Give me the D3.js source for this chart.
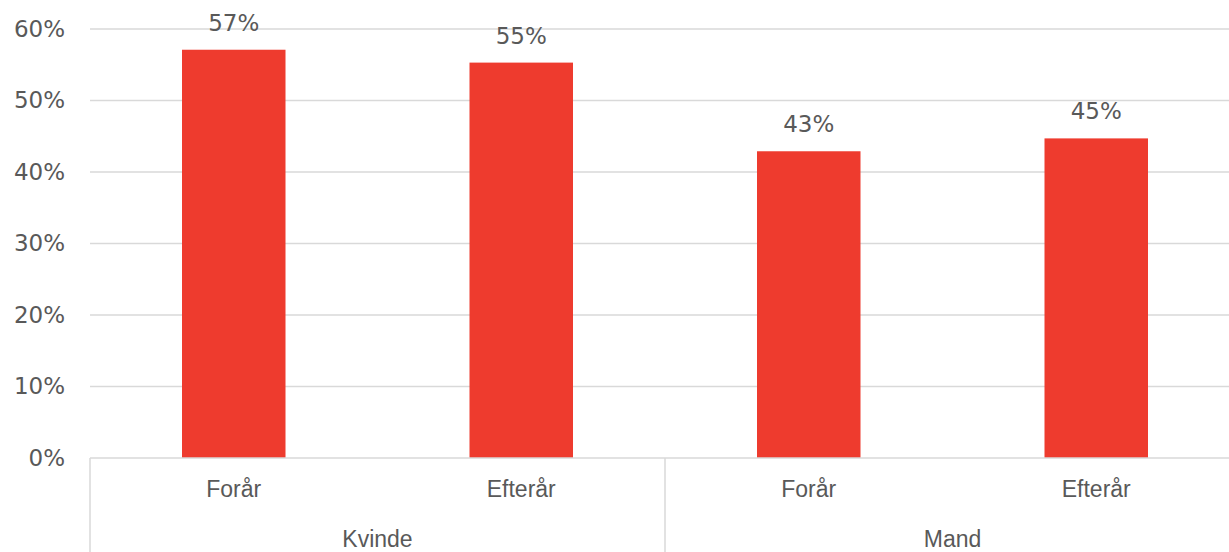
<!DOCTYPE html>
<html><head><meta charset="utf-8">
<script src="https://cdn.jsdelivr.net/npm/d3@7"></script>
<style>html,body{margin:0;padding:0;background:#fff;overflow:hidden}</style>
</head><body><svg id="c" width="1229" height="552"></svg>
<script>
const groups = ["Kvinde", "Mand"];
const seasons = ["Forår", "Efterår"];
const kvindeValues = [57.1, 55.3];
const mandValues = [42.9, 44.7];
const valueLabels = ["57%", "55%", "43%", "45%"];
const yTicks = [0, 10, 20, 30, 40, 50, 60];

const rows = [];
groups.forEach((g, gi) => {
  const vals = gi === 0 ? kvindeValues : mandValues;
  seasons.forEach((s, si) => rows.push({group: g, season: s, value: vals[si], key: g + "|" + s}));
});
rows.forEach((r, i) => r.label = valueLabels[i]);

const svg = d3.select("#c");
const pLeft = 90, pRight = 1240, pTop = 29, pBottom = 458;
const x = d3.scaleBand().domain(rows.map(d => d.key)).range([pLeft, pRight]).paddingInner(0.64).paddingOuter(0.32);
const xg = d3.scaleBand().domain(groups).range([pLeft, pRight]);
const y = d3.scaleLinear().domain([0, 60]).range([pBottom, pTop]);

const grid = "#d9d9d9", txt = "#595959";
const numFont = "'DejaVu Sans', sans-serif";
const catFont = "'Liberation Sans', Arial, sans-serif";

// gridlines
svg.append("g").selectAll("line").data(yTicks.filter(t => t > 0)).join("line")
  .attr("x1", pLeft).attr("x2", 1229).attr("y1", d => y(d)).attr("y2", d => y(d))
  .attr("stroke", grid).attr("stroke-width", 1.5);

// y axis labels
const yAxis = d3.axisLeft(y).tickValues(yTicks).tickFormat(d => d + "%").tickSize(0).tickPadding(25);
const ya = svg.append("g").attr("transform", `translate(${pLeft},0)`).call(yAxis);
ya.select(".domain").remove();
ya.selectAll("text").attr("font-family", numFont).attr("font-size", 23).attr("fill", txt);

// bars
svg.append("g").selectAll("rect").data(rows).join("rect")
  .attr("x", d => x(d.key)).attr("width", x.bandwidth())
  .attr("y", d => y(d.value)).attr("height", d => y(0) - y(d.value))
  .attr("fill", "#ee3b2e");

// value labels
svg.append("g").selectAll("text").data(rows).join("text")
  .attr("x", d => x(d.key) + x.bandwidth() / 2).attr("y", d => y(d.value) - 19)
  .attr("text-anchor", "middle").attr("font-family", numFont).attr("font-size", 23).attr("fill", txt)
  .text(d => d.label);

// x axis baseline
svg.append("line").attr("x1", pLeft).attr("x2", 1229).attr("y1", pBottom).attr("y2", pBottom)
  .attr("stroke", grid).attr("stroke-width", 1.5);

// group dividers
const divs = groups.map(g => xg(g)).concat([pRight]);
svg.append("g").selectAll("line").data(divs).join("line")
  .attr("x1", d => d).attr("x2", d => d).attr("y1", pBottom).attr("y2", 552)
  .attr("stroke", grid).attr("stroke-width", 1.5);

// season labels
svg.append("g").selectAll("text").data(rows).join("text")
  .attr("x", d => x(d.key) + x.bandwidth() / 2).attr("y", 497)
  .attr("text-anchor", "middle").attr("font-family", catFont).attr("font-size", 23).attr("fill", txt)
  .text(d => d.season);

// group labels
svg.append("g").selectAll("text").data(groups).join("text")
  .attr("x", d => xg(d) + xg.bandwidth() / 2).attr("y", 547)
  .attr("text-anchor", "middle").attr("font-family", catFont).attr("font-size", 23).attr("fill", txt)
  .text(d => d);
</script></body></html>
